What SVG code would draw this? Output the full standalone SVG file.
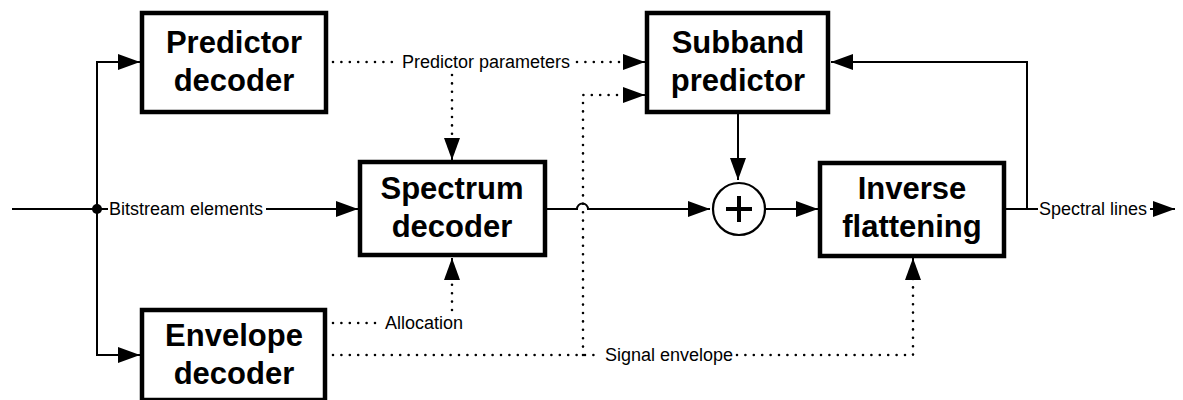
<svg xmlns="http://www.w3.org/2000/svg" width="1183" height="400" viewBox="0 0 1183 400">
<defs>
<style>
.box{fill:#fff;stroke:#000;stroke-width:4.5}
.bl{font-family:"Liberation Sans",Arial,sans-serif;font-weight:bold;font-size:31px;fill:#000;text-anchor:middle}
.lb{font-family:"Liberation Sans",Arial,sans-serif;font-size:18px;fill:#000}
.ln{fill:none;stroke:#000;stroke-width:2}
.dt{fill:none;stroke:#000;stroke-width:2.6;stroke-dasharray:0 8.4;stroke-linecap:round}
</style>
<marker id="ah" markerUnits="userSpaceOnUse" markerWidth="24" markerHeight="18" refX="22" refY="8" orient="auto">
<path d="M0,0 L22,8 L0,16 z" fill="#000"/>
</marker>
</defs>
<rect width="1183" height="400" fill="#fff"/>
<g id="connectors">
<path class="ln" d="M12,209 H108"/>
<path class="ln" d="M97,209 V62 H140" marker-end="url(#ah)"/>
<path class="ln" d="M97,209 V355 H140" marker-end="url(#ah)"/>
<circle cx="97" cy="209" r="5" fill="#000"/>
<path class="ln" d="M266,209 H358" marker-end="url(#ah)"/>
<path class="ln" d="M547,209 H577 A5.5,5.5 0 0 1 588,209 H710" marker-end="url(#ah)"/>
<path class="ln" d="M738,114 V180" marker-end="url(#ah)"/>
<path class="ln" d="M766,209 H818" marker-end="url(#ah)"/>
<path class="ln" d="M1006,209 H1038"/>
<path class="ln" d="M1027,209 V62 H831" marker-end="url(#ah)"/>
<path class="ln" d="M1150,209 H1175" marker-end="url(#ah)"/>
<path class="dt" d="M333,62 H398"/>
<path class="dt" d="M577,62 H624"/>
<path class="ln" d="M624,62 H645" marker-end="url(#ah)"/>
<path class="dt" d="M452,75 V142"/>
<path class="ln" d="M452,142 V160" marker-end="url(#ah)"/>
<path class="dt" d="M583,355 V95 H624"/>
<path class="ln" d="M624,95 H645" marker-end="url(#ah)"/>
<path class="dt" d="M333,323 H380"/>
<path class="dt" d="M452,310 V276"/>
<path class="ln" d="M452,276 V258" marker-end="url(#ah)"/>
<path class="dt" d="M333,355 H600"/>
<path class="dt" d="M737,355 H913 V276"/>
<path class="ln" d="M913,276 V258" marker-end="url(#ah)"/>
<text class="lb" x="109" y="215">Bitstream elements</text>
<text class="lb" x="402" y="68">Predictor parameters</text>
<text class="lb" x="385" y="329">Allocation</text>
<text class="lb" x="605" y="361">Signal envelope</text>
<text class="lb" x="1039" y="215">Spectral lines</text>
</g>
<g id="predictor-decoder">
<rect class="box" x="142" y="13" width="184" height="99"/>
<text class="bl" x="234" y="53">Predictor</text>
<text class="bl" x="234" y="91">decoder</text>
</g>
<g id="envelope-decoder">
<rect class="box" x="142" y="310" width="183" height="90"/>
<text class="bl" x="234" y="346">Envelope</text>
<text class="bl" x="234" y="384">decoder</text>
</g>
<g id="spectrum-decoder">
<rect class="box" x="360" y="162" width="185" height="93"/>
<text class="bl" x="452" y="199">Spectrum</text>
<text class="bl" x="452" y="237">decoder</text>
</g>
<g id="subband-predictor">
<rect class="box" x="647" y="13" width="181" height="99"/>
<text class="bl" x="738" y="53">Subband</text>
<text class="bl" x="738" y="91">predictor</text>
</g>
<g id="adder">
<circle cx="739" cy="209" r="26" fill="#fff" stroke="#000" stroke-width="2.2"/>
<path d="M726,209 H752 M739,196 V222" stroke="#000" stroke-width="4" fill="none"/>
</g>
<g id="inverse-flattening">
<rect class="box" x="820" y="163" width="184" height="93"/>
<text class="bl" x="912" y="199">Inverse</text>
<text class="bl" x="912" y="237">flattening</text>
</g>
</svg>
